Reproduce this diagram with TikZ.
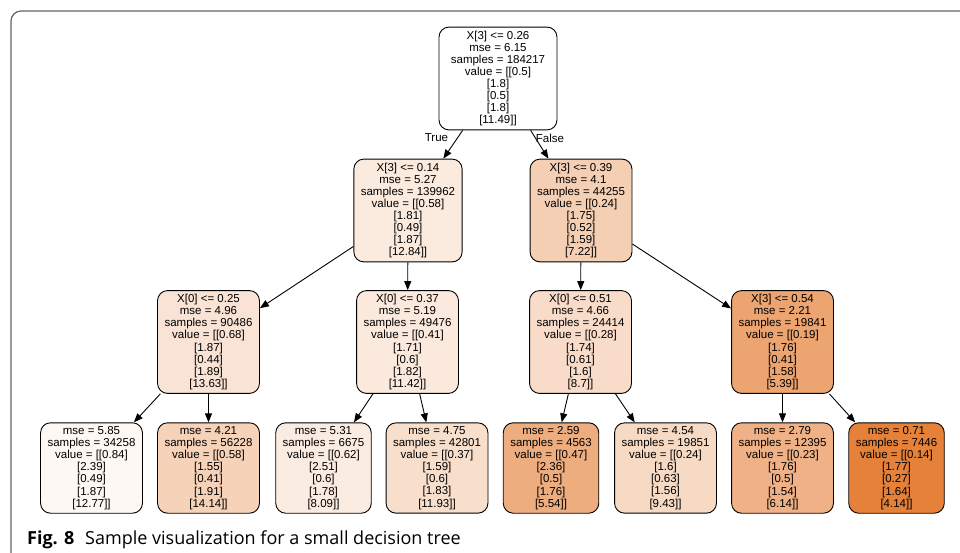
\documentclass[tikz,border=0pt]{standalone}
\usepackage{fontspec}
\setmainfont{Liberation Sans}
\newfontfamily\capfont{Open Sans}
\usetikzlibrary{arrows.meta}
\definecolor{dtorange}{RGB}{229,129,57}
\definecolor{framegray}{RGB}{100,100,100}

\begin{document}
\begin{tikzpicture}[x=1pt, y=-1pt,
  dt/.style={draw=black, line width=0.9pt, rounded corners=10pt,
    fill=dtorange!#1, align=center, inner xsep=7pt, inner ysep=3.7pt,
    font=\fontsize{11.5}{12.1}\selectfont},
  dt/.default=0,
  lbl/.style={inner sep=0pt, font=\fontsize{11.5}{12.1}\selectfont},
  >={Triangle[length=9pt,width=7pt]}]
\useasboundingbox (0,0) rectangle (960,552);
\draw [framegray, line width=1.2pt, rounded corners=10pt] (11,570) -- (11,11) -- (980,11);
% root
\node [dt, minimum width=118pt] (root) at (498,78.5) {X[3] <= 0.26\\mse = 6.15\\samples = 184217\\value = [[0.5]\\{}[1.8]\\{}[0.5]\\{}[1.8]\\{}[11.49]]};
% depth 1
\node [dt=16.2] (L) at (408,210.5) {X[3] <= 0.14\\mse = 5.27\\samples = 139962\\value = [[0.58]\\{}[1.81]\\{}[0.49]\\{}[1.87]\\{}[12.84]]};
\node [dt=37.7] (R) at (581,210.5) {X[3] <= 0.39\\mse = 4.1\\samples = 44255\\value = [[0.24]\\{}[1.75]\\{}[0.52]\\{}[1.59]\\{}[7.22]]};
% depth 2
\node [dt=21.9] (LL) at (208.5,342) {X[0] <= 0.25\\mse = 4.96\\samples = 90486\\value = [[0.68]\\{}[1.87]\\{}[0.44]\\{}[1.89]\\{}[13.63]]};
\node [dt=17.6] (LR) at (407.5,342) {X[0] <= 0.37\\mse = 5.19\\samples = 49476\\value = [[0.41]\\{}[1.71]\\{}[0.6]\\{}[1.82]\\{}[11.42]]};
\node [dt=27.4] (RL) at (580.5,342) {X[0] <= 0.51\\mse = 4.66\\samples = 24414\\value = [[0.28]\\{}[1.74]\\{}[0.61]\\{}[1.6]\\{}[8.7]]};
\node [dt=72.4] (RR) at (782.5,342) {X[3] <= 0.54\\mse = 2.21\\samples = 19841\\value = [[0.19]\\{}[1.76]\\{}[0.41]\\{}[1.58]\\{}[5.39]]};
% leaves
\node [dt=5.5] (LLL) at (91.5,468) {mse = 5.85\\samples = 34258\\value = [[0.84]\\{}[2.39]\\{}[0.49]\\{}[1.87]\\{}[12.77]]};
\node [dt=35.7] (LLR) at (208.5,468) {mse = 4.21\\samples = 56228\\value = [[0.58]\\{}[1.55]\\{}[0.41]\\{}[1.91]\\{}[14.14]]};
\node [dt=15.4] (LRL) at (323.5,468) {mse = 5.31\\samples = 6675\\value = [[0.62]\\{}[2.51]\\{}[0.6]\\{}[1.78]\\{}[8.09]]};
\node [dt=25.7] (LRR) at (437,468) {mse = 4.75\\samples = 42801\\value = [[0.37]\\{}[1.59]\\{}[0.6]\\{}[1.83]\\{}[11.93]]};
\node [dt=65.4] (RLL) at (551,468) {mse = 2.59\\samples = 4563\\value = [[0.47]\\{}[2.36]\\{}[0.5]\\{}[1.76]\\{}[5.54]]};
\node [dt=29.6] (RLR) at (665.5,468) {mse = 4.54\\samples = 19851\\value = [[0.24]\\{}[1.6]\\{}[0.63]\\{}[1.56]\\{}[9.43]]};
\node [dt=61.8] (RRL) at (782.5,468) {mse = 2.79\\samples = 12395\\value = [[0.23]\\{}[1.76]\\{}[0.5]\\{}[1.54]\\{}[6.14]]};
\node [dt=100] (RRR) at (896.5,468) {mse = 0.71\\samples = 7446\\value = [[0.14]\\{}[1.77]\\{}[0.27]\\{}[1.64]\\{}[4.14]]};
% edges
\draw [->, line width=0.9pt] (root) -- (L);
\draw [->, line width=0.9pt] (root) -- (R);
\draw [->, line width=0.9pt] (L) -- (LL);
\draw [->, line width=0.9pt] (L) -- (LR);
\draw [->, line width=0.9pt] (R) -- (RL);
\draw [->, line width=0.9pt] (R) -- (RR);
\draw [->, line width=0.9pt] (LL) -- (LLL);
\draw [->, line width=0.9pt] (LL) -- (LLR);
\draw [->, line width=0.9pt] (LR) -- (LRL);
\draw [->, line width=0.9pt] (LR) -- (LRR);
\draw [->, line width=0.9pt] (RL) -- (RLL);
\draw [->, line width=0.9pt] (RL) -- (RLR);
\draw [->, line width=0.9pt] (RR) -- (RRL);
\draw [->, line width=0.9pt] (RR) -- (RRR);
\node [lbl] (true) at (436.5,138) {True};
\node [lbl] (false) at (550,138) {False};
% caption
\node [anchor=base west, inner sep=0pt, font=\capfont\fontsize{18}{21}\selectfont] (cap) at (27,544) {\textbf{Fig. 8}\hspace{0.6em}Sample visualization for a small decision tree};
\end{tikzpicture}
\end{document}
